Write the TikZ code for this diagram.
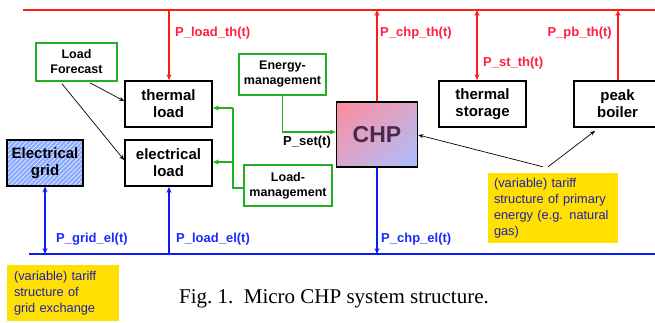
\documentclass[tikz,border=0pt]{standalone}
\usepackage{fontspec}
\setmainfont{Liberation Sans}
\newfontfamily\capfont{Liberation Serif}
\usetikzlibrary{arrows.meta,patterns.meta,shadings}
\definecolor{myred}{HTML}{FF1A1A}
\definecolor{lblred}{HTML}{FF2040}
\definecolor{myblue}{HTML}{0A1AFF}
\definecolor{lblblue}{HTML}{1A2AFF}
\definecolor{mygreen}{HTML}{22B022}
\definecolor{myyellow}{HTML}{FFE000}
\definecolor{ytext}{HTML}{2020B0}
\definecolor{gridblue}{HTML}{8AAAFF}
\definecolor{chptext}{HTML}{4A2A4A}
\definecolor{chpred}{HTML}{FF8A9C}
\definecolor{chpmid}{HTML}{D8A8CC}
\definecolor{chpblue}{HTML}{A8C0FF}
\begin{document}
\begin{tikzpicture}[x=1pt,y=-1pt,
 blackbox/.style={draw=black,line width=1.8pt,fill=white,minimum width=87pt,minimum height=46pt,inner sep=0pt,align=center,font=\bfseries\fontsize{15}{17}\selectfont},
 greenbox/.style={draw=mygreen,line width=1.6pt,fill=white,inner sep=0pt,align=center,font=\bfseries\fontsize{12.5}{15}\selectfont},
 yellowbox/.style={fill=myyellow,inner ysep=0pt,align=left,text=ytext,font=\fontsize{12.8}{16}\selectfont},
 mainline/.style={line width=2.8pt},
 conn/.style={line width=1.8pt,-{Stealth[length=6pt,width=5pt]}},
 dconn/.style={line width=1.8pt,{Stealth[length=6pt,width=5pt]}-{Stealth[length=6pt,width=5pt]}},
 pointer/.style={line width=0.7pt,-{Stealth[length=5pt,width=4pt]}},
 lbl/.style={font=\bfseries\fontsize{13}{15}\selectfont,inner sep=0pt},
]
\useasboundingbox (0,0) rectangle (655,322);
\clip (0,0) rectangle (655,322);

% main lines
\coordinate (rl0) at (23,10); \coordinate (rl1) at (665,10);
\coordinate (bl0) at (29,254); \coordinate (bl1) at (665,254);
\draw[mainline,myred] (rl0) -- (rl1);
\draw[mainline,myblue] (bl0) -- (bl1);

% boxes
\node[greenbox,minimum width=81pt,minimum height=38pt] (forecast) at (76.5,62) {Load\\Forecast};
\node[blackbox] (thermal) at (168.5,104) {thermal\\load};
\node[blackbox] (eload) at (168.5,163) {electrical\\load};
\node[blackbox,minimum width=76pt,preaction={fill=gridblue},pattern={Lines[angle=45,distance=3.2pt,line width=0.7pt]},pattern color=white!80!gridblue] (grid) at (45,163) {Electrical\\grid};
\node[greenbox,minimum width=87pt,minimum height=41pt] (energy) at (282.5,74.5) {Energy-\\management};
\node[greenbox,minimum width=88pt,minimum height=41pt] (lmgmt) at (288,185.5) {Load-\\management};
\node[draw=black,line width=1.8pt,minimum width=81pt,minimum height=65pt,inner sep=0pt,
  shade,upper left=chpred,upper right=chpmid,lower left=chpmid,lower right=chpblue,
  font=\bfseries\fontsize{23}{25}\selectfont,text=chptext] (chp) at (377,134.5) {CHP};
\node[blackbox] (storage) at (482.5,104) {thermal\\storage};
\node[blackbox] (boiler) at (617.5,104) {peak\\boiler};

\node[yellowbox,inner xsep=6pt,text width=118pt,minimum height=70pt] (ytar) at (553,208) {\mbox{(variable) tariff}\\\mbox{structure of primary}\\\mbox{energy (e.g. natural}\\gas)};
\node[yellowbox,inner xsep=7pt,text width=98pt,minimum height=56pt] (ygrid) at (63,293) {\mbox{(variable) tariff}\\structure of\\\mbox{grid exchange}};

\node[font=\capfont\fontsize{21}{24}\selectfont,anchor=base,inner sep=0pt] (cap) at (334,303) {Fig.~1.\ \ Micro CHP system structure.};

% red connectors
\coordinate (r1) at (169,10);
\draw[conn,myred] (r1) -- (r1 |- thermal.north);
\draw[conn,myred] (chp.north) -- (chp.north |- rl0);
\coordinate (r3) at (477,10);
\draw[dconn,myred] (r3) -- (r3 |- storage.north);
\coordinate (r4) at (618,10);
\draw[conn,myred] (r4 |- boiler.north) -- (r4);

% blue connectors
\coordinate (b1) at (45,254);
\draw[dconn,myblue] (grid.south) -- (b1);
\coordinate (b2) at (169,254);
\draw[conn,myblue] (b2) -- (b2 |- eload.south);
\draw[conn,myblue] (chp.south) -- (chp.south |- bl0);

% green connectors
\draw[conn,mygreen,line width=1.6pt] (energy.south) |- ([yshift=2.5pt]chp.west);
\coordinate (gtop) at (233,108);
\coordinate (gmid) at (233,162);
\draw[mygreen,line width=1.6pt] ([yshift=-2.5pt]lmgmt.west) -| (gtop);
\draw[conn,mygreen,line width=1.6pt] (gtop) -- (gtop -| thermal.east);
\draw[conn,mygreen,line width=1.6pt] (gmid) -- (gmid -| eload.east);

% black pointers
\draw[pointer] ([xshift=13.5pt,yshift=-1pt]forecast.south) -- ([yshift=3pt]thermal.west);
\draw[pointer] ([xshift=-14.5pt,yshift=-2pt]forecast.south) -- ([yshift=3pt]eload.west);
\draw[pointer] ([xshift=-10pt,yshift=6pt]ytar.north) -- ([yshift=-0.5pt]chp.east);
\draw[pointer] ([xshift=-5pt,yshift=6pt]ytar.north) -- ([xshift=-22.5pt,yshift=-3pt]boiler.south);

% labels
\node[lbl,text=lblred,anchor=west] (l1) at (175,33) {P\_load\_th(t)};
\node[lbl,text=lblred,anchor=west] (l2) at (380,33) {P\_chp\_th(t)};
\node[lbl,text=lblred,anchor=west] (l3) at (483,63) {P\_st\_th(t)};
\node[lbl,text=lblred,anchor=east] (l4) at (612,33) {P\_pb\_th(t)};
\node[lbl,text=lblblue,anchor=west] (l5) at (56,239) {P\_grid\_el(t)};
\node[lbl,text=lblblue,anchor=west] (l6) at (176,239) {P\_load\_el(t)};
\node[lbl,text=lblblue,anchor=west] (l7) at (381,239) {P\_chp\_el(t)};
\node[lbl,text=black,anchor=west] (l8) at (283,142) {P\_set(t)};
\end{tikzpicture}
\end{document}
